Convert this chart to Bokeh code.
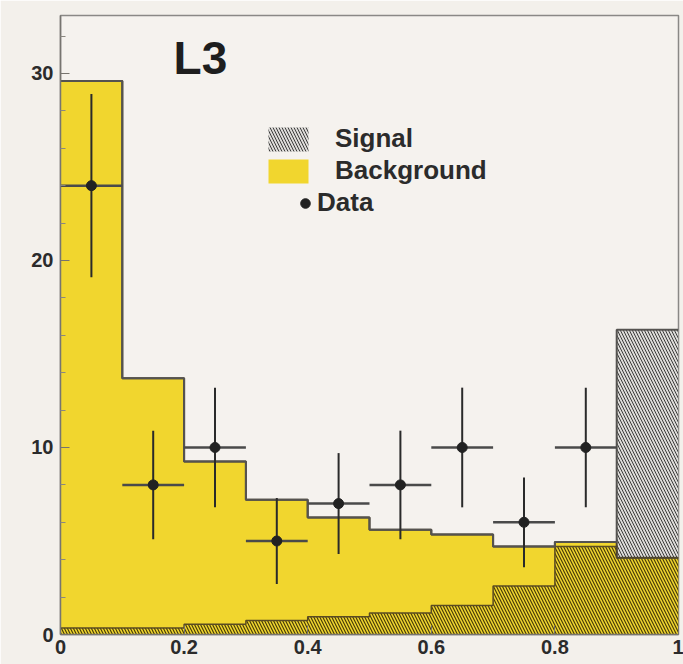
import numpy as np
from bokeh.plotting import figure
from bokeh.models import Range1d, FixedTicker, Legend, LegendItem, Label
from bokeh.embed import file_html
from bokeh.resources import INLINE

# ---- data ----
bin_edges = [0.0, 0.1, 0.2, 0.3, 0.4, 0.5, 0.6, 0.7, 0.8, 0.9, 1.0]
background = [29.6, 13.7, 9.25, 7.2, 6.25, 5.6, 5.35, 4.7, 4.95, 4.1]
signal = [0.35, 0.35, 0.55, 0.75, 0.95, 1.15, 1.55, 2.6, 4.7, 16.3]
data_x = [0.05, 0.15, 0.25, 0.35, 0.45, 0.55, 0.65, 0.75, 0.85]
data_y = [24, 8, 10, 5, 7, 8, 10, 6, 10]
data_err = [4.9, 2.9, 3.2, 2.3, 2.7, 2.9, 3.2, 2.4, 3.2]
x_ticks = [0, 0.2, 0.4, 0.6, 0.8, 1.0]
x_tick_labels = ["0", "0.2", "0.4", "0.6", "0.8", "1"]
y_ticks = [0, 10, 20, 30]
y_tick_labels = ["0", "10", "20", "30"]
y_minor = [2, 4, 6, 8, 12, 14, 16, 18, 22, 24, 26, 28, 32]

FONT = "Liberation Sans"
YELLOW = "#f1d62e"
BG = "#f3f0eb"

edges = np.array(bin_edges)
bg = np.array(background)
sg = np.array(signal)
half_w = 0.05


def ext(a):
    return np.append(a, a[-1])


sin = np.minimum(sg, bg)
tot = np.maximum(sg, bg)

p = figure(width=683, height=664, output_backend="svg", toolbar_location=None,
           x_range=Range1d(0, 1), y_range=Range1d(0, 33.1),
           min_border_left=60, min_border_right=5, min_border_top=15, min_border_bottom=30)
p.background_fill_color = "#f5f2ee"
p.border_fill_color = BG
p.outline_line_color = "#8a8886"
p.outline_line_width = 1.5
p.grid.visible = False

# background histogram (yellow)
r_bg = p.varea_step(x=edges, y1=np.zeros(len(edges)), y2=ext(bg), step_mode="after",
                    fill_color=YELLOW)
# signal above the background (grey hatched)
r_sig = p.varea_step(x=edges, y1=ext(bg), y2=ext(tot), step_mode="after",
                     fill_color="#dddbd8",
                     hatch_pattern="\\", hatch_color="#3c3c3c", hatch_scale=6, hatch_weight=1)
# signal inside the background (hatch over yellow)
p.varea_step(x=edges, y1=np.zeros(len(edges)), y2=ext(sin), step_mode="after",
             fill_alpha=0,
             hatch_pattern="\\", hatch_color="#4a3e08", hatch_alpha=1.0, hatch_scale=6,
             hatch_weight=1.2)

# outlines
p.step(x=edges, y=ext(sin), mode="after", line_color="#5a4b22", line_width=1.5)
p.step(x=edges, y=ext(bg), mode="after", line_color="#4e4530", line_width=2)
p.step(x=edges, y=ext(tot), mode="after", line_color="#555350", line_width=2)

# data with error bars
dx = np.array(data_x)
dy = np.array(data_y, dtype=float)
de = np.array(data_err)
p.segment(x0=dx - half_w, x1=dx + half_w, y0=dy, y1=dy, line_color="#4a4a4a", line_width=2.5)
p.segment(x0=dx, x1=dx, y0=dy - de, y1=dy + de, line_color="#2a2a2a", line_width=2)
r_data = p.scatter(dx, dy, size=10, fill_color="#222222", line_color="#222222")

# axes
p.xaxis.ticker = FixedTicker(ticks=x_ticks)
p.xaxis.major_label_overrides = dict(zip(x_ticks, x_tick_labels))
p.yaxis.ticker = FixedTicker(ticks=y_ticks, minor_ticks=y_minor)
p.yaxis.major_label_overrides = dict(zip(y_ticks, y_tick_labels))
for ax in (p.xaxis[0], p.yaxis[0]):
    ax.axis_line_color = "#777570"
    ax.axis_line_width = 1.5
    ax.major_tick_in = 9
    ax.major_tick_out = 0
    ax.minor_tick_in = 5
    ax.minor_tick_out = 0
    ax.major_tick_line_color = "#77746e"
    ax.minor_tick_line_color = "#8a8780"
    ax.major_label_text_font = FONT
    ax.major_label_text_font_style = "bold"
    ax.major_label_text_font_size = "20px"
    ax.major_label_text_color = "#2b2b2b"
p.xaxis.minor_tick_line_color = None
p.xaxis.major_label_standoff = 5
p.yaxis.major_label_standoff = 7

# title label
p.add_layout(Label(x=0.183, y=29.45, text="L3", text_font=FONT, text_font_style="bold",
                   text_font_size="46px", text_color="#1e1e1e"))

# legends
leg1 = Legend(items=[LegendItem(label="Signal", renderers=[r_sig]),
                     LegendItem(label="Background", renderers=[r_bg])],
              location=(203, 448), glyph_width=50, glyph_height=30, label_height=30,
              spacing=1, padding=0, margin=0, label_standoff=22,
              border_line_color=None, background_fill_alpha=0,
              label_text_font=FONT, label_text_font_style="bold",
              label_text_font_size="26px", label_text_color="#2b2b2b")
leg2 = Legend(items=[LegendItem(label="Data", renderers=[r_data])],
              location=(233, 416), glyph_width=24, glyph_height=30, label_height=30,
              spacing=0, padding=0, margin=0, label_standoff=0,
              border_line_color=None, background_fill_alpha=0,
              label_text_font=FONT, label_text_font_style="bold",
              label_text_font_size="26px", label_text_color="#2b2b2b")
p.add_layout(leg1)
p.add_layout(leg2)

html = file_html(p, INLINE)
html = html.replace("<body>", '<body style="background-color:%s;">' % BG, 1)
open("out.html", "w").write(html)
